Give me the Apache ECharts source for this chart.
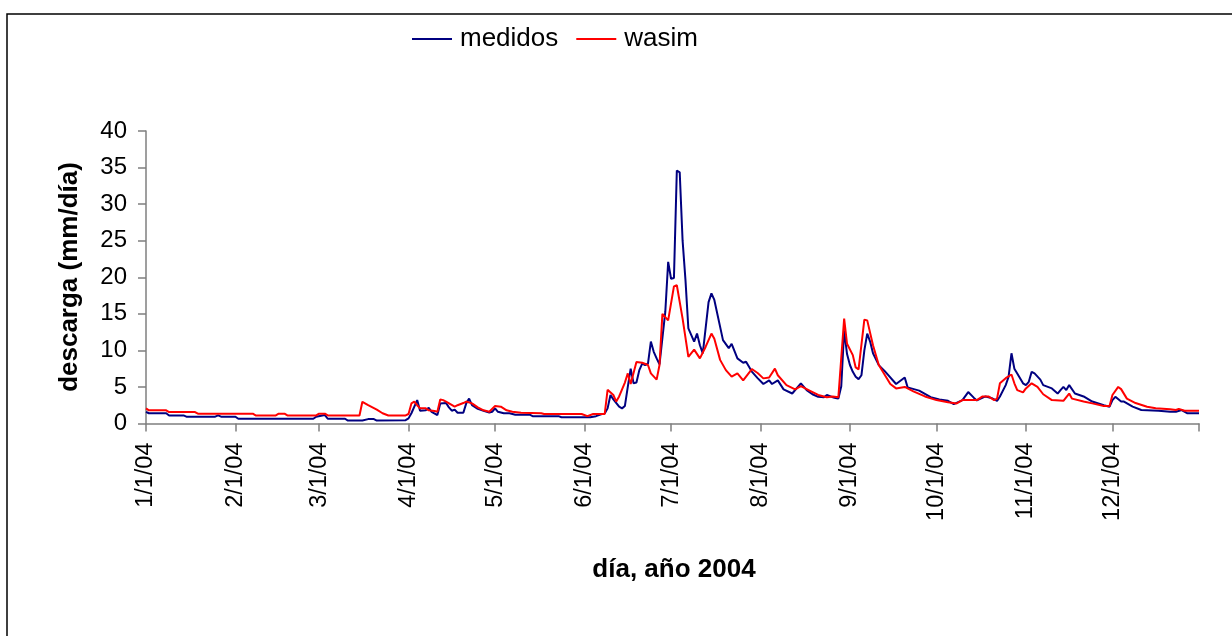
<!DOCTYPE html>
<html>
<head>
<meta charset="utf-8">
<script src="https://cdn.jsdelivr.net/npm/echarts@6/dist/echarts.min.js"></script>
<style>
html,body{margin:0;padding:0;background:#fff;}
#chart{width:1232px;height:636px;}
</style>
</head>
<body>
<div id="chart"></div>
<script>
// Month tick labels and the day-of-year (0 = 1 Jan 2004) where each month starts
const monthLabels = ['1/1/04','2/1/04','3/1/04','4/1/04','5/1/04','6/1/04','7/1/04','8/1/04','9/1/04','10/1/04','11/1/04','12/1/04'];
const monthStartDays = [0,31,60,91,121,152,182,213,244,274,305,335];
const lastDay = 365;

// medidos (observed) – day of year, discharge mm/día
const medidosDays = [0,1,7,8,13,14,24,25,26,31,32,58,59,62,63,69,70,75,77,79,80,90,91,92,94,95,97,98,99,101,102,104,105,106,107,108,110,111,112,113,115,117,119,120,121,122,124,126,128,133,134,143,144,154,156,158,159,160,161,162,164,165,166,167,168,169,170,171,172,173,174,175,176,177,178,180,181,182,183,184,185,186,187,188,190,191,192,193,195,196,197,200,202,203,205,207,208,210,212,214,216,217,219,221,224,227,229,231,233,235,236,238,239,240,241,242,243,244,245,246,247,248,249,250,251,252,254,256,260,263,264,268,272,275,278,280,283,285,287,288,291,293,295,296,298,299,300,301,302,304,305,306,307,308,310,311,314,316,317,318,319,320,322,325,328,332,334,335,336,338,339,342,345,351,355,357,359,361,365];
const medidosVals = [1.6,1.4,1.4,1.1,1.1,0.93,0.93,1.1,0.93,0.93,0.65,0.65,0.93,1.15,0.65,0.65,0.4,0.4,0.6,0.6,0.4,0.45,0.7,1.4,3.2,1.75,1.8,2.16,1.6,1.16,2.75,2.8,2.2,1.75,1.9,1.47,1.47,2.75,3.4,2.5,2.0,1.75,1.5,1.6,2.07,1.6,1.4,1.4,1.2,1.2,1.0,1.0,0.85,0.85,1.0,1.3,1.35,2.07,3.9,3.3,2.3,2.07,2.4,5.0,7.5,5.5,5.6,7.3,8.2,8.0,8.2,11.2,9.8,8.9,8.1,15.25,22.1,19.8,19.9,34.6,34.35,25.0,19.6,13.0,11.2,12.3,10.7,9.6,16.6,17.8,16.9,11.4,10.3,10.9,8.9,8.3,8.45,7.1,6.2,5.4,5.9,5.4,5.9,4.67,4.1,5.5,4.57,4.0,3.65,3.6,3.9,3.6,3.5,3.4,5.1,12.75,9.5,8.0,7.07,6.4,6.07,6.6,10.0,12.3,11.2,9.6,7.98,7.2,5.4,6.3,4.94,4.5,3.6,3.3,3.1,2.66,3.2,4.3,3.5,3.15,3.7,3.5,3.1,3.7,5.25,6.4,9.6,7.5,6.85,5.5,5.25,5.7,7.07,6.85,6.0,5.25,4.8,4.1,4.57,5.0,4.57,5.25,4.1,3.7,3.0,2.5,2.3,3.2,3.65,3.0,3.0,2.3,1.84,1.75,1.6,1.6,1.84,1.4,1.4];

// wasim (simulated) – day of year, discharge mm/día
const wasimDays = [0,1,7,8,17,18,37,38,45,46,48,49,59,60,62,63,74,75,77,80,82,84,90,91,92,93,94,95,97,98,100,101,102,103,104,107,108,110,111,113,115,117,119,121,123,125,127,130,137,138,151,153,155,159,160,162,163,164,166,167,168,170,172,174,175,177,178,179,181,183,184,186,188,190,192,194,196,197,199,201,203,205,207,210,212,214,216,218,219,222,225,227,230,233,236,238,240,242,243,245,246,247,249,250,252,254,258,260,263,266,270,274,278,281,283,288,290,292,294,295,296,298,300,301,302,304,305,307,309,311,314,318,320,321,325,328,332,334,335,337,338,340,343,347,350,355,357,358,360,365];
const wasimVals = [2.07,1.8,1.8,1.57,1.57,1.34,1.34,1.1,1.1,1.34,1.34,1.1,1.1,1.34,1.34,1.1,1.1,2.97,2.5,1.9,1.4,1.1,1.1,1.3,2.75,3.0,2.5,2.07,2.07,1.8,1.7,1.6,3.3,3.2,3.0,2.3,2.5,2.8,3.0,2.75,2.2,1.8,1.6,2.4,2.3,1.8,1.6,1.47,1.4,1.3,1.3,1.0,1.3,1.3,4.6,3.9,3.0,3.7,5.6,6.85,5.4,8.4,8.3,8.0,6.85,6.0,8.0,15.0,14.1,18.75,18.9,14.35,9.1,10.1,8.9,10.5,12.3,11.6,8.7,7.3,6.4,6.85,5.9,7.45,6.9,6.17,6.3,7.5,6.6,5.25,4.67,5.1,4.5,3.9,3.6,3.7,3.6,14.35,10.9,9.35,7.67,7.4,14.2,14.1,10.7,8.0,5.4,4.8,5.0,4.4,3.7,3.2,2.9,2.75,3.2,3.2,3.7,3.7,3.2,3.4,5.5,6.2,6.7,5.5,4.57,4.25,4.8,5.5,5.0,4.0,3.2,3.1,4.1,3.4,3.0,2.75,2.4,2.4,3.9,5.0,4.7,3.4,2.8,2.3,2.1,1.95,1.84,2.0,1.75,1.75];

// one category per day of 2004
const categories = [];
for (let i = 0; i <= lastDay; i++) {
  const dt = new Date(Date.UTC(2004, 0, 1 + i));
  categories.push((dt.getUTCMonth() + 1) + '/' + dt.getUTCDate() + '/04');
}

const chart = echarts.init(document.getElementById('chart'), null, {renderer: 'canvas'});
const FONT = '"Liberation Sans", Arial, sans-serif';
const axisGray = '#7f7f7f';

chart.setOption({
  animation: false,
  backgroundColor: '#ffffff',
  textStyle: {fontFamily: FONT},
  grid: {left: 146, right: 33, top: 131, bottom: 212.5, containLabel: false},
  legend: {
    left: 412, top: 24, padding: 0,
    itemWidth: 40, itemHeight: 2, itemGap: 18,
    icon: 'rect',
    textStyle: {fontFamily: FONT, fontSize: 26, color: '#000', lineHeight: 30, padding: [0, 0, 0, 3]},
    data: ['medidos', 'wasim']
  },
  xAxis: {
    type: 'category',
    data: categories,
    boundaryGap: false,
    axisLine: {show: true, lineStyle: {color: axisGray, width: 1.5}},
    axisTick: {
      show: true, length: 8, inside: false,
      interval: (idx) => monthStartDays.includes(idx) || idx === lastDay,
      lineStyle: {color: axisGray, width: 1.5}
    },
    axisLabel: {
      interval: (idx) => monthStartDays.includes(idx),
      formatter: (v, idx) => monthLabels[monthStartDays.indexOf(idx)] || '',
      rotate: 90, margin: 19,
      fontFamily: FONT, fontSize: 23.5, color: '#000'
    },
    splitLine: {show: false}
  },
  yAxis: {
    type: 'value',
    min: 0, max: 40, interval: 5,
    axisLine: {show: true, lineStyle: {color: axisGray, width: 1.5}},
    axisTick: {show: true, length: 8, inside: false, lineStyle: {color: axisGray, width: 1.5}},
    axisLabel: {margin: 19, fontFamily: FONT, fontSize: 24, color: '#000'},
    splitLine: {show: false}
  },
  series: [
    {
      name: 'medidos', type: 'line', symbol: 'none', showSymbol: false,
      lineStyle: {color: '#000080', width: 2}, itemStyle: {color: '#000080'},
      data: medidosDays.map((d, i) => [d, medidosVals[i]]),
      z: 2
    },
    {
      name: 'wasim', type: 'line', symbol: 'none', showSymbol: false,
      lineStyle: {color: '#ff0000', width: 2}, itemStyle: {color: '#ff0000'},
      data: wasimDays.map((d, i) => [d, wasimVals[i]]),
      z: 3
    }
  ],
  graphic: [
    {
      type: 'rect', silent: true,
      shape: {x: 7, y: 14, width: 1400, height: 800},
      style: {fill: 'none', stroke: '#000', lineWidth: 1.5}
    },
    {
      type: 'text', silent: true,
      x: 70, y: 277, rotation: Math.PI / 2,
      style: {text: 'descarga (mm/día)', font: 'bold 26px ' + FONT, fill: '#000', align: 'center', verticalAlign: 'middle'}
    },
    {
      type: 'text', silent: true,
      x: 674, y: 570,
      style: {text: 'día, año 2004', font: 'bold 26px ' + FONT, fill: '#000', align: 'center', verticalAlign: 'middle'}
    }
  ]
});
</script>
</body>
</html>
